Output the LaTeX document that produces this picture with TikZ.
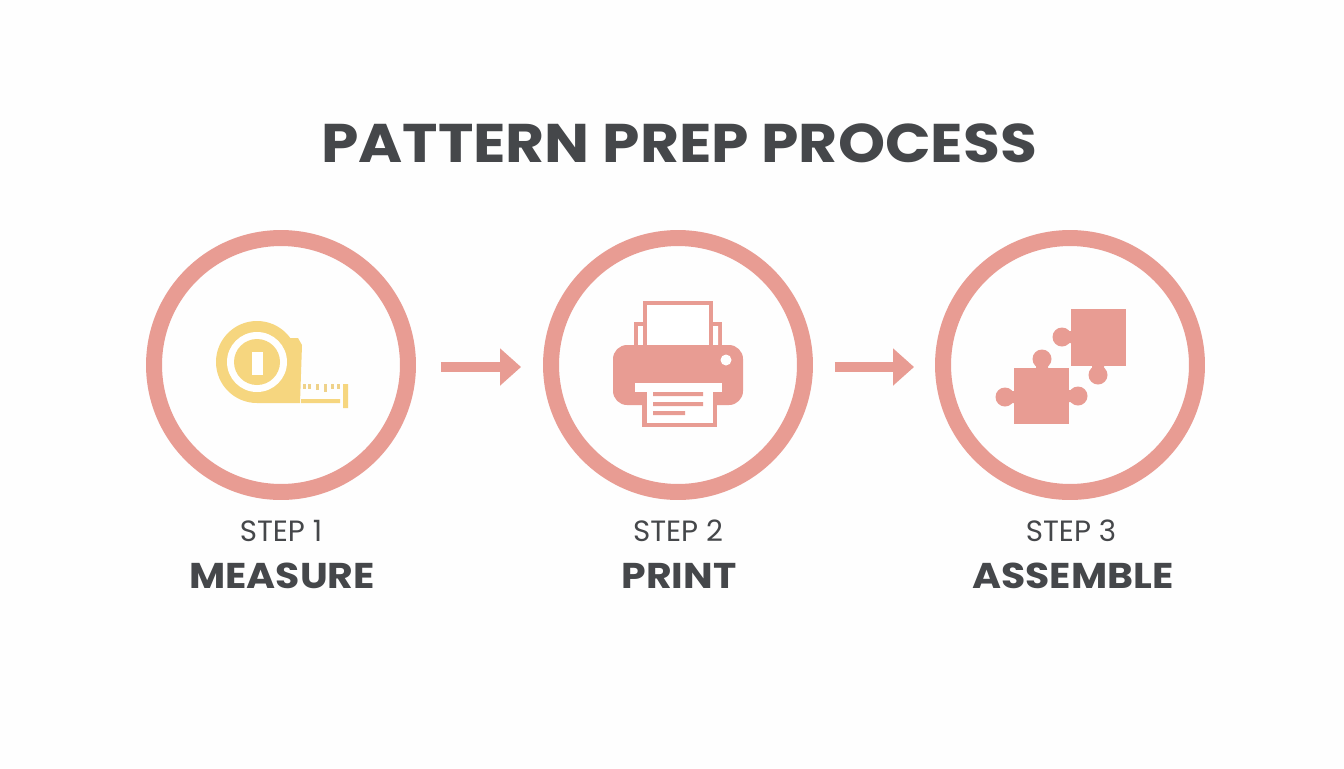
\documentclass[tikz,border=0pt]{standalone}
\usepackage{fontspec}
\setmainfont{Poppins}
\newfontfamily\widebold[FakeStretch=1.1,BoldFont={* Bold}]{Poppins}
\usetikzlibrary{arrows.meta}
\definecolor{rosepink}{HTML}{E89C93}
\definecolor{tapeyellow}{HTML}{F6D67F}
\definecolor{tapetick}{HTML}{EFD28A}
\definecolor{inkgray}{HTML}{45474A}
\definecolor{papernear}{HTML}{FEFEFE}
\tikzset{
  ring/.style={circle,draw=rosepink,line width=.32cm,minimum size=5.08cm,inner sep=0},
  flow/.style={draw=rosepink,line width=.2cm,
    -{Triangle[length=.42cm,width=.72cm,fill=rosepink]}},
  steplabel/.style={text=inkgray,font=\fontsize{16.7}{18}\selectfont},
  namelabel/.style={text=inkgray,font=\widebold\fontsize{20.4}{24}\selectfont\bfseries}
}
\begin{document}
\begin{tikzpicture}[x=.02cm,y=-.02cm]
\useasboundingbox (0,0) rectangle (1344,768);
\fill[papernear] (0,0) rectangle (1344,768);

\node[text=inkgray,font=\widebold\fontsize{31}{38}\selectfont\bfseries] (title) at (679,143) {PATTERN PREP PROCESS};

% rings and arrows
\node[ring] (measure) at (281,365) {};
\node[ring] (print) at (678,365) {};
\node[ring] (assemble) at (1070,365) {};
\draw[flow,shorten <=.5cm,shorten >=.44cm] ([yshift=-.04cm]measure.east) -- ([yshift=-.04cm]print.west);
\draw[flow,shorten <=.44cm,shorten >=.42cm] ([yshift=-.04cm]print.east) -- ([yshift=-.04cm]assemble.west);

% tape measure
\fill[tapeyellow] (257,362) circle (41);
\fill[tapeyellow] (257,403) -- (300,403) -- (302,345) -- (298,338) -- (288,338) -- (270,330) -- cycle;
\fill[white] (257,362) circle (30);
\fill[tapeyellow] (257,362) circle (23);
\fill[white] (252,352) rectangle (263,375);
\fill[tapeyellow] (301,399) rectangle (340,403) (343,384) rectangle (348,408);
\foreach \tickx/\tickend in {303/389,308/389,316/390,324/392,331/389,337/389}
  \fill[tapetick] (\tickx,384) rectangle (\tickx+2.5,\tickend);

% printer
\fill[rosepink] (634,322) rectangle (722,345);
\fill[white] (638,326) rectangle (645,345) (712,326) rectangle (718,345);
\fill[rosepink] (643,301) rectangle (713,345);
\fill[white] (647,305) rectangle (709,345);
\fill[rosepink,rounded corners=8] (613,345) rectangle (743,405);
\fill[white] (726,360) circle (5.5);
\fill[white] (635,383) rectangle (722,392);
\fill[rosepink] (642,392) rectangle (717,427);
\fill[white] (647,392) rectangle (713,423);
\fill[rosepink] (653,392) rectangle (703,396) (653,402) rectangle (703,406) (653,411) rectangle (685,415);

% puzzle pieces
\fill[rosepink] (1071,309) rectangle (1126,366);
\fill[rosepink] (1014,368) rectangle (1069,424);
\foreach \knobx/\knoby in {1062/337,1098/375,1042/359,1005/397,1078/396}
  \fill[rosepink] (\knobx,\knoby) circle (9.5);
\fill[rosepink] (1062,331) rectangle (1072,343) (1092,365) rectangle (1104,372)
  (1036,362) rectangle (1048,369) (1008,391) rectangle (1015,403) (1068,390) rectangle (1074,402);

% labels
\node[steplabel] (step1) at (281,531) {STEP 1};
\node[namelabel] (name1) at (282,576) {MEASURE};
\node[steplabel] (step2) at (678,531) {STEP 2};
\node[namelabel] (name2) at (679,576) {PRINT};
\node[steplabel] (step3) at (1071,531) {STEP 3};
\node[namelabel] (name3) at (1073,576) {ASSEMBLE};
\end{tikzpicture}
\end{document}
